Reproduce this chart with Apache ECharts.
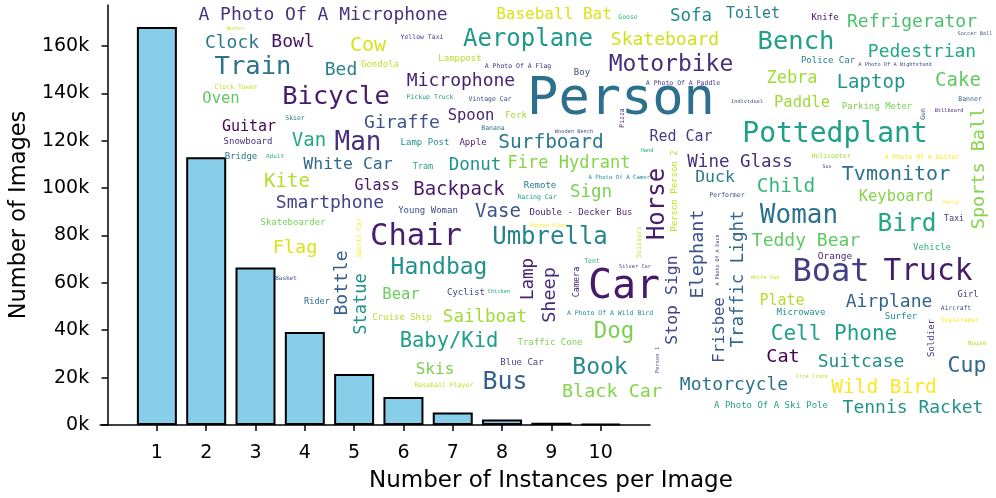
<!DOCTYPE html>
<html>
<head>
<meta charset="utf-8">
<script src="https://cdn.jsdelivr.net/npm/echarts@6/dist/echarts.min.js"></script>
<style>
  html, body { margin: 0; padding: 0; background: #fff; }
  #chart { width: 996px; height: 498px; }
</style>
</head>
<body>
<div id="chart"></div>
<script>
// bars: images per instance count
var instances = [1, 2, 3, 4, 5, 6, 7, 8, 9, 10];
var imageCounts = [168000, 113000, 66500, 39300, 21500, 11800, 5300, 2300, 1000, 500];
var yTicks = [0, 20000, 40000, 60000, 80000, 100000, 120000, 140000, 160000];

// word cloud (word, centre x, centre y, font size, rotation, colour)
var cloudWords = [
  'A Photo Of A Microphone', 'Worker', 'Clock', 'Bowl', 'Cow', 'Train', 'Bed', 'Gondola', 'Clock Tower', 'Bicycle',
  'Oven', 'Skier', 'Guitar', 'Giraffe', 'Snowboard', 'Van', 'Man', 'Baseball Bat', 'Yellow Taxi', 'Aeroplane',
  'Lamppost', 'A Photo Of A Flag', 'Boy', 'Microphone', 'Person', 'Pickup Truck', 'Vintage Car', 'Spoon', 'Fork', 'Banana',
  'Wooden Bench', 'Lamp Post', 'Apple', 'Surfboard', 'Goose', 'Sofa', 'Toilet', 'Skateboard', 'Bench', 'Motorbike',
  'Zebra', 'A Photo Of A Paddle', 'Individual', 'Paddle', 'Pizza', 'Red Car', 'Pottedplant', 'Knife', 'Refrigerator', 'Soccer Ball',
  'Pedestrian', 'Police Car', 'A Photo Of A Nightstand', 'Laptop', 'Cake', 'Parking Meter', 'Banner', 'Gun', 'Billboard', 'Sports Ball',
  'Bridge', 'Adult', 'White Car', 'Kite', 'Glass', 'Smartphone', 'Young Woman', 'Skateboarder', 'Sports Car', 'Chair',
  'Flag', 'Bottle', 'Statue', 'Handbag', 'Basket', 'Rider', 'Bear', 'Cruise Ship', 'Tram', 'Donut',
  'Fire Hydrant', 'Backpack', 'Remote', 'Racing Car', 'Sign', 'A Photo Of A Camera', 'Vase', 'Double - Decker Bus', 'Potted Plant', 'Umbrella',
  'Tent', 'Lamp', 'Sheep', 'Camera', 'Car', 'Hand', 'Person Person 2', 'Wine Glass', 'Duck', 'Child',
  'Performer', 'Horse', 'Woman', 'Elephant', 'Traffic Light', 'A Photo Of A Duck', 'Scissors', 'Silver Car', 'Stop Sign', 'Teddy Bear',
  'White Van', 'Boat', 'Helicopter', 'A Photo Of A Guitar', 'Suv', 'Tvmonitor', 'Keyboard', 'Ferry', 'Bird', 'Taxi',
  'Vehicle', 'Orange', 'Truck', 'Cyclist', 'Chicken', 'A Photo Of A Wild Bird', 'Sailboat', 'Baby/Kid', 'Traffic Cone', 'Dog',
  'Blue Car', 'Skis', 'Book', 'Bus', 'Baseball Player', 'Black Car', 'Frisbee', 'Plate', 'Microwave', 'Cell Phone',
  'Person 1', 'Cat', 'Motorcycle', 'A Photo Of A Ski Pole', 'Fire Truck', 'Airplane', 'Girl', 'Aircraft', 'Surfer', 'Skyscraper',
  'Soldier', 'House', 'Suitcase', 'Cup', 'Wild Bird', 'Tennis Racket'
];
var cloudX = [
  323, 236, 232, 293, 368, 253, 341, 380, 236, 336,
  221, 295, 249, 402, 248, 309, 358, 554, 422, 528,
  460, 518, 582, 461, 621, 430, 490, 471, 516, 493,
  574, 425, 473, 551, 628, 691, 753, 665, 796, 671,
  792, 683, 747, 802, 622, 681, 835, 825, 912, 975,
  922, 828, 895, 871, 958, 877, 970, 923, 949, 979,
  241, 275, 348, 287, 377, 330, 428, 293, 359, 416,
  295, 342, 362, 439, 286, 317, 401, 402, 423, 475,
  569, 459, 540, 537, 591, 621, 498, 581, 549, 550,
  592, 528, 550, 577, 624, 647, 675, 740, 715, 786,
  727, 658, 799, 698, 738, 718, 639, 635, 673, 806,
  765, 831, 831, 922, 827, 896, 896, 951, 907, 954,
  932, 835, 928, 466, 499, 610, 485, 449, 550, 614,
  522, 435, 600, 505, 444, 612, 720, 782, 801, 834,
  658, 783, 734, 771, 812, 889, 968, 956, 901, 960,
  932, 977, 861, 967, 884, 913
];
var cloudY = [
  15, 29, 43, 42, 46, 67, 70, 65, 87, 97,
  99, 118, 127, 123, 142, 141, 143, 15, 37, 40,
  59, 66, 73, 81, 100, 97, 99, 116, 116, 128,
  132, 143, 143, 143, 17, 16, 14, 40, 42, 65,
  79, 83, 102, 103, 118, 137, 135, 18, 22, 34,
  52, 61, 65, 83, 81, 107, 99, 114, 111, 168,
  157, 156, 165, 182, 186, 203, 211, 223, 238, 237,
  248, 283, 304, 268, 278, 302, 295, 318, 167, 165,
  164, 190, 186, 197, 192, 178, 212, 213, 226, 238,
  261, 279, 295, 282, 288, 151, 191, 162, 178, 187,
  195, 204, 216, 254, 279, 260, 242, 267, 300, 241,
  278, 273, 156, 157, 167, 175, 197, 203, 225, 219,
  248, 257, 272, 293, 292, 313, 317, 342, 343, 332,
  363, 370, 368, 382, 385, 392, 330, 301, 313, 335,
  360, 357, 385, 406, 377, 302, 295, 308, 317, 320,
  338, 343, 362, 366, 388, 408
];
var cloudSize = [
  18, 5, 18, 18, 20, 25.5, 18, 9, 6.5, 25.5,
  15.5, 6.5, 15, 18, 9, 19, 26, 16, 6.5, 24,
  9, 6.5, 9, 18, 52, 6.5, 6.5, 15.5, 9, 6.5,
  5.3, 9, 9, 19.5, 6.5, 17.5, 15, 18, 25.5, 23,
  17, 6.5, 5.3, 15.5, 6.5, 15, 28, 9, 18, 5.3,
  18, 9, 5.3, 19, 19, 9, 6.5, 6.5, 5.3, 18.5,
  9, 6, 16.5, 19, 15, 18, 9, 9, 6.5, 30.5,
  18.5, 18, 17, 23, 6, 8.6, 15.5, 9, 8.5, 17.5,
  17, 19, 9, 6.5, 17.5, 5.7, 19, 9, 5.3, 24,
  6.5, 17.5, 18.5, 8.5, 40, 5.5, 9, 17.5, 16.5, 19.5,
  6.5, 24, 26, 18.5, 17.5, 5, 6.5, 5.3, 16.5, 18,
  5.3, 32, 6.5, 6.5, 5, 20, 15.5, 5.3, 24.5, 8.5,
  9, 9.5, 29.5, 9, 5.3, 6.5, 17.5, 20.5, 9, 22.5,
  9, 16, 23, 25, 6.5, 18.5, 15.5, 15, 9, 21,
  5.5, 18.5, 18, 9, 5.3, 18, 8.7, 6.3, 9, 6.3,
  9, 6.3, 18, 21.5, 19.5, 18
];
var cloudRotate = [
  0, 0, 0, 0, 0, 0, 0, 0, 0, 0,
  0, 0, 0, 0, 0, 0, 0, 0, 0, 0,
  0, 0, 0, 0, 0, 0, 0, 0, 0, 0,
  0, 0, 0, 0, 0, 0, 0, 0, 0, 0,
  0, 0, 0, 0, 90, 0, 0, 0, 0, 0,
  0, 0, 0, 0, 0, 0, 0, 90, 0, 90,
  0, 0, 0, 0, 0, 0, 0, 0, 90, 0,
  0, 90, 90, 0, 0, 0, 0, 0, 0, 0,
  0, 0, 0, 0, 0, 0, 0, 0, 0, 0,
  0, 90, 90, 90, 0, 0, 90, 0, 0, 0,
  0, 90, 0, 90, 90, 90, 90, 0, 90, 0,
  0, 0, 0, 0, 0, 0, 0, 0, 0, 0,
  0, 0, 0, 0, 0, 0, 0, 0, 0, 0,
  0, 0, 0, 0, 0, 0, 90, 0, 0, 0,
  90, 0, 0, 0, 0, 0, 0, 0, 0, 0,
  90, 0, 0, 0, 0, 0
];
var cloudColor = [
  '#46327e', '#c2df23', '#2a788e', '#471164', '#d8e219', '#2c728e', '#26828e', '#bddf26', '#c2df23', '#481b6d',
  '#5ec962', '#2a788e', '#450559', '#3b528b', '#46327e', '#22a884', '#472d7b', '#dde318', '#414487', '#1f9a8a',
  '#b5de2b', '#46337e', '#3e4a89', '#482173', '#2d708e', '#20a386', '#3e4c8a', '#482475', '#a0da39', '#2c728e',
  '#3b528b', '#21918c', '#481a6c', '#2a788e', '#35b779', '#23898e', '#277f8e', '#d0e11c', '#1fa187', '#472c7a',
  '#a5db36', '#443983', '#3b528b', '#a0da39', '#481f70', '#433e85', '#1fa088', '#471063', '#4ac16d', '#46578a',
  '#22a884', '#287d8e', '#3e4a89', '#1f968b', '#5ec962', '#7ad151', '#31688e', '#3b528b', '#481f70', '#86d549',
  '#2a788e', '#29af7f', '#31688e', '#b5de2b', '#481a6c', '#414487', '#3e4c8a', '#7ad151', '#fde725', '#481c6e',
  '#dde318', '#355f8d', '#21918c', '#20928c', '#3b528b', '#2c728e', '#6ccd5a', '#b5de2b', '#20a386', '#1f948c',
  '#86d549', '#481769', '#2a788e', '#20a386', '#7ad151', '#21918c', '#3b528b', '#481f70', '#fde725', '#25848e',
  '#22a884', '#482475', '#472c7a', '#482475', '#48186a', '#29af7f', '#c2df23', '#472f7d', '#287c8e', '#35b779',
  '#3e4a89', '#481b6d', '#2c728e', '#3b528b', '#31688e', '#46327e', '#c2df23', '#3e4a89', '#404688', '#5ec962',
  '#c2df23', '#433e85', '#a0da39', '#fde725', '#46327e', '#2c728e', '#86d549', '#fde725', '#22a884', '#433e85',
  '#29af7f', '#482475', '#481a6c', '#414487', '#22a884', '#21918c', '#a0da39', '#1fa088', '#7ad151', '#7ad151',
  '#414487', '#7ad151', '#23898e', '#355f8d', '#c2df23', '#86d549', '#3b528b', '#b5de2b', '#21918c', '#1f9e89',
  '#46578a', '#440154', '#2c728e', '#20a386', '#b5de2b', '#33638d', '#46327e', '#3e4a89', '#21918c', '#fde725',
  '#46327e', '#b5de2b', '#21918c', '#31688e', '#fde725', '#20928c'
];

var chart = echarts.init(document.getElementById('chart'));

var barData = instances.map(function (x, i) { return [x, imageCounts[i]]; });

var cloudData = [];
for (var i = 0; i < cloudWords.length; i++) {
  cloudData.push({
    name: cloudWords[i],
    value: [cloudX[i], cloudY[i]],
    label: { fontSize: cloudSize[i], rotate: cloudRotate[i], color: cloudColor[i] }
  });
}

var axisFont = 'DejaVu Sans';

var option = {
  backgroundColor: '#ffffff',
  animation: false,
  grid: [
    { left: 97, top: 5, width: 553, height: 420 },
    { left: 0, top: 0, width: 996, height: 498 }
  ],
  xAxis: [
    {
      type: 'value', gridIndex: 0, min: -0.15, max: 11,
      splitLine: { show: false },
      axisLine: { lineStyle: { color: '#000', width: 1.5 } },
      axisTick: { customValues: instances, length: 6, lineStyle: { color: '#000', width: 1.5 } },
      axisLabel: { customValues: instances, color: '#000', fontSize: 19, fontFamily: axisFont, margin: 19 }
    },
    { type: 'value', gridIndex: 1, min: 0, max: 996, show: false }
  ],
  yAxis: [
    {
      type: 'value', gridIndex: 0, min: 0, max: 177300,
      name: 'Number of Images', nameLocation: 'middle', nameGap: 64,
      nameTextStyle: { color: '#000', fontSize: 22.5, fontFamily: axisFont },
      splitLine: { show: false },
      axisLine: { show: true, lineStyle: { color: '#000', width: 1.5 } },
      axisTick: { show: true, customValues: yTicks, length: 6, lineStyle: { color: '#000', width: 1.5 } },
      axisLabel: {
        customValues: yTicks, color: '#000', fontSize: 19, fontFamily: axisFont, margin: 11,
        formatter: function (v) { return (v / 1000) + 'k'; }
      }
    },
    { type: 'value', gridIndex: 1, min: 0, max: 498, inverse: true, show: false }
  ],
  graphic: [
    {
      type: 'text', left: 369, top: 470,
      style: { text: 'Number of Instances per Image', fill: '#000', font: '23px "DejaVu Sans"' }
    }
  ],
  series: [
    {
      type: 'bar', xAxisIndex: 0, yAxisIndex: 0,
      data: barData, barWidth: 40,
      itemStyle: { color: '#87ceeb', borderColor: '#000', borderWidth: 2 }
    },
    {
      type: 'scatter', xAxisIndex: 1, yAxisIndex: 1, symbolSize: 0, z: 5,
      itemStyle: { opacity: 1 },
      emphasis: { disabled: true },
      data: cloudData,
      label: {
        show: true, position: 'inside', formatter: '{b}', opacity: 1,
        fontFamily: 'DejaVu Sans Mono', align: 'center', verticalAlign: 'middle'
      }
    }
  ]
};

chart.setOption(option);
</script>
</body>
</html>
